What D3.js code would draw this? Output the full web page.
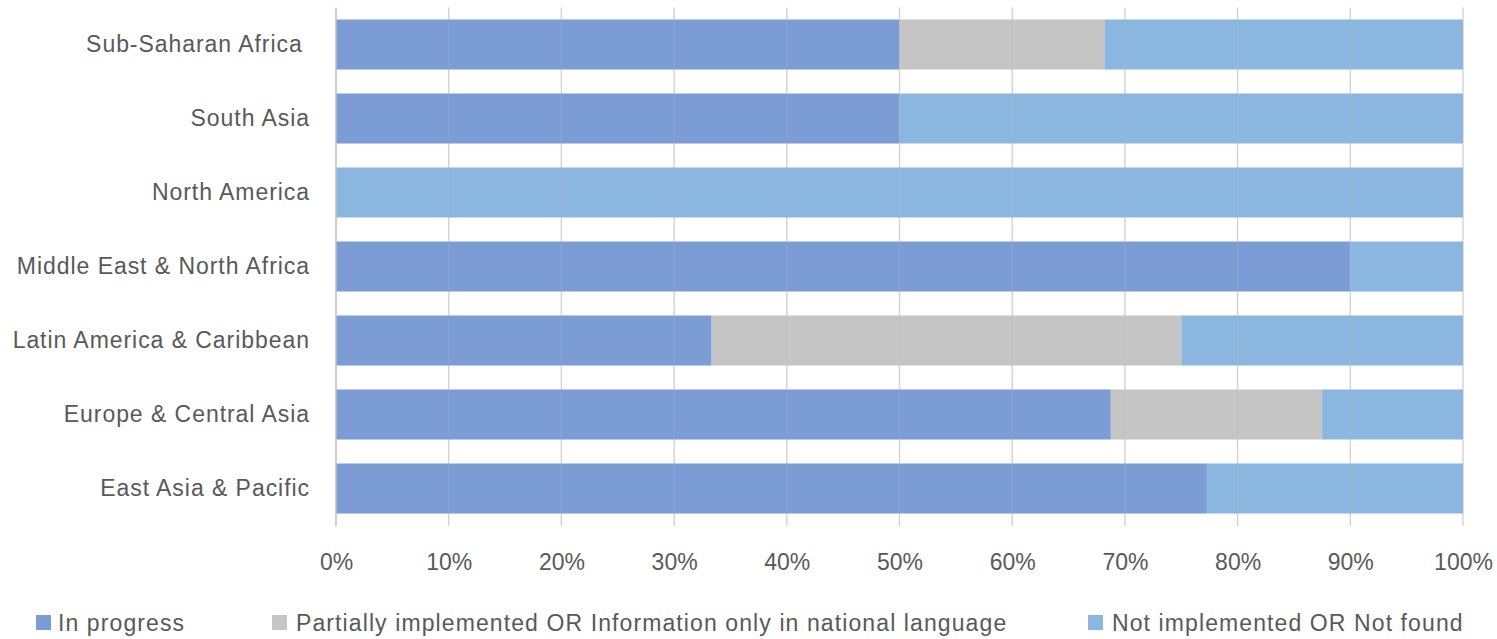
<!DOCTYPE html>
<html><head><meta charset="utf-8">
<script src="https://cdn.jsdelivr.net/npm/d3@7"></script>
<style>body{margin:0;background:#fff}svg{display:block}text{font-family:"Liberation Sans",Arial,sans-serif;fill:#595959}</style>
</head><body><svg id="c" width="1497" height="639"></svg>
<script>
const categories = ["Sub-Saharan Africa ","South Asia","North America","Middle East & North Africa","Latin America & Caribbean","Europe & Central Asia","East Asia & Pacific"];
const seriesNames = ["In progress","Partially implemented OR Information only in national language","Not implemented OR Not found"];
const inProgress = [50, 50, 0, 90, 33.33, 68.75, 77.27];
const partial = [18.18, 0, 0, 0, 41.67, 18.75, 0];
const notImpl = [31.82, 50, 100, 10, 25, 12.5, 22.73];
const tickLabels = ["0%","10%","20%","30%","40%","50%","60%","70%","80%","90%","100%"];
const colors = ["#7b9cd4","#c6c5c6","#8bb6e0"];

const svg = d3.select("#c");
const x = d3.scaleLinear().domain([0,100]).range([336,1463]);
const y = d3.scaleBand().domain(categories).range([7.5,525.5]).paddingInner(24/74).paddingOuter(12/74);
const ticks = d3.range(0,101,10);

// gridlines behind bars
svg.append("g").selectAll("line").data(ticks.slice(1)).join("line")
  .attr("x1",d=>x(d)).attr("x2",d=>x(d)).attr("y1",7.5).attr("y2",526)
  .attr("stroke","#d9d9d9").attr("stroke-width",1.3);

const rows = categories.map((c,i)=>({c, v:[inProgress[i],partial[i],notImpl[i]]}));
const stack = d3.stack().keys([0,1,2]).value((d,k)=>d.v[k]);
const layers = stack(rows);

svg.append("g").selectAll("g").data(layers).join("g").attr("fill",(d,i)=>colors[i])
  .selectAll("rect").data(d=>d).join("rect")
  .attr("x",d=>x(d[0])).attr("width",d=>x(d[1])-x(d[0]))
  .attr("y",d=>y(d.data.c)).attr("height",y.bandwidth());

// faint gridlines over bars
svg.append("g").selectAll("line").data(ticks.slice(1)).join("line")
  .attr("x1",d=>x(d)).attr("x2",d=>x(d)).attr("y1",7.5).attr("y2",526)
  .attr("stroke","#bfbfbf").attr("stroke-width",1.3).attr("stroke-opacity",0.25);
svg.append("line").attr("x1",x(0)).attr("x2",x(0)).attr("y1",7.5).attr("y2",526)
  .attr("stroke","#bfbfbf").attr("stroke-width",1.5);

// x tick labels
const xAxis = d3.axisBottom(x).tickValues(ticks).tickSize(0).tickPadding(0).tickFormat((d,i)=>tickLabels[i]);
const gx = svg.append("g").attr("transform","translate(0,558)").call(xAxis);
gx.select(".domain").remove();
gx.selectAll("text").attr("font-size",23).attr("dy","0.5em").style("font-family","'Liberation Sans',Arial,sans-serif").attr("fill","#595959");

// y labels
const yAxis = d3.axisLeft(y).tickSize(0).tickPadding(0);
const gy = svg.append("g").attr("transform","translate(310,0)").call(yAxis);
gy.select(".domain").remove();
gy.selectAll("text").attr("font-size",23).style("font-family","'Liberation Sans',Arial,sans-serif")
  .style("letter-spacing","0.95px").attr("fill","#595959").style("white-space","pre");

// legend
const legX = [36,272,1088];
const lg = svg.append("g").selectAll("g").data(seriesNames).join("g")
  .attr("transform",(d,i)=>`translate(${legX[i]},615)`);
lg.append("rect").attr("width",15).attr("height",15).attr("fill",(d,i)=>colors[i]);
lg.append("text").attr("x",(d,i)=>i===0?22:24).attr("y",8).attr("dy","0.36em").attr("font-size",23)
  .style("letter-spacing","1.1px").text(d=>d);
</script></body></html>
